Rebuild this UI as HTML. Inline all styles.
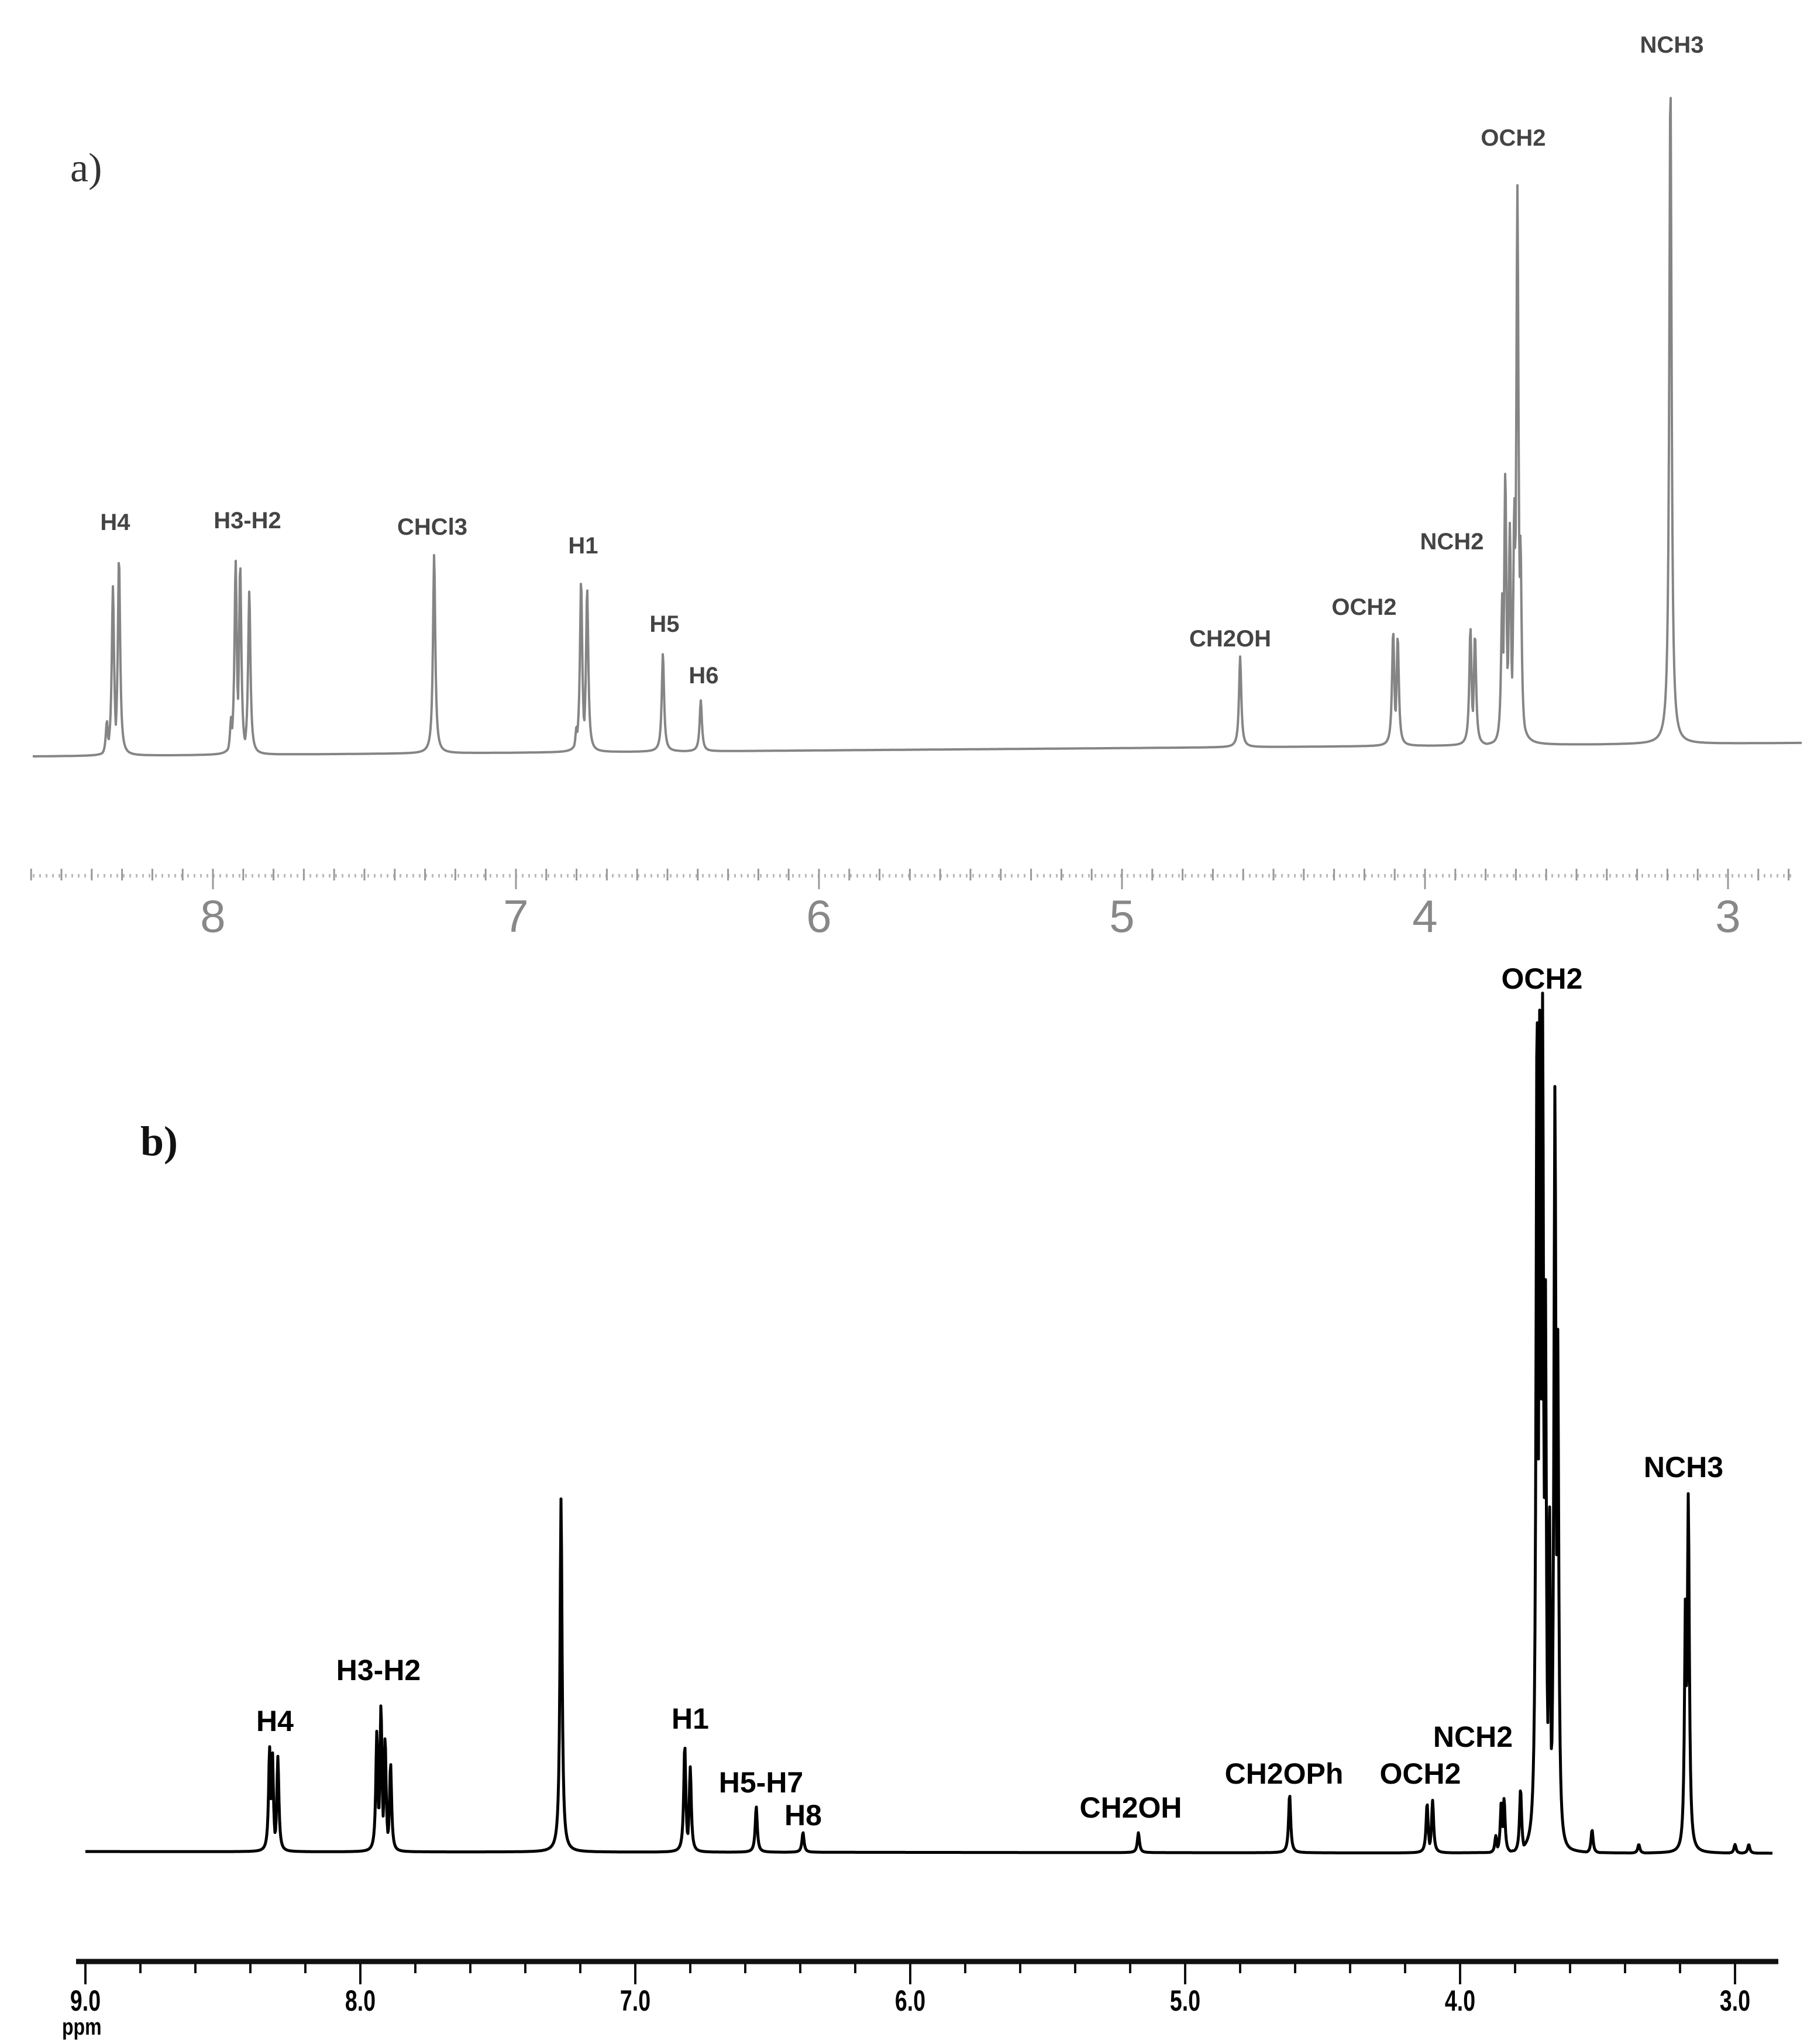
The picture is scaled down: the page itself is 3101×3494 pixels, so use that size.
<!DOCTYPE html>
<html><head><meta charset="utf-8"><style>
html,body{margin:0;padding:0;background:#fff;}
svg{display:block;}
.tl{font-family:"Liberation Sans",sans-serif;font-weight:bold;font-size:40px;fill:#444;text-anchor:middle;}
.bl{font-family:"Liberation Sans",sans-serif;font-weight:bold;font-size:50px;fill:#000;text-anchor:middle;}
</style></head><body>
<svg id="chart" width="3101" height="3494" viewBox="0 0 3101 3494" xmlns="http://www.w3.org/2000/svg">
<rect width="3101" height="3494" fill="#fff"/>
<g id="top"></g>
<g id="bot"></g>
<text x="120" y="310" font-family="Liberation Serif,serif" font-size="70" fill="#333">a)</text>
<text x="240" y="1975" font-family="Liberation Serif,serif" font-weight="bold" font-size="72" fill="#111">b)</text>
<g>
<text class="tl" x="197" y="906">H4</text>
<text class="tl" x="423" y="903">H3-H2</text>
<text class="tl" x="739" y="914">CHCl3</text>
<text class="tl" x="997" y="946">H1</text>
<text class="tl" x="1136" y="1080">H5</text>
<text class="tl" x="1203" y="1168">H6</text>
<text class="tl" x="2103" y="1105">CH2OH</text>
<text class="tl" x="2332" y="1051">OCH2</text>
<text class="tl" x="2482" y="939">NCH2</text>
<text class="tl" x="2587" y="249">OCH2</text>
<text class="tl" x="2858" y="90">NCH3</text>
</g>
<g>
<text class="bl" x="470" y="2959">H4</text>
<text class="bl" x="647" y="2872">H3-H2</text>
<text class="bl" x="1180" y="2955">H1</text>
<text class="bl" x="1301" y="3064">H5-H7</text>
<text class="bl" x="1373" y="3120">H8</text>
<text class="bl" x="1933" y="3107">CH2OH</text>
<text class="bl" x="2195" y="3049">CH2OPh</text>
<text class="bl" x="2428" y="3049">OCH2</text>
<text class="bl" x="2518" y="2986">NCH2</text>
<text class="bl" x="2636" y="1690">OCH2</text>
<text class="bl" x="2878" y="2525">NCH3</text>
</g>
</svg>
<script>
// Panel a data
const topPpm = [8.35, 8.33, 8.31, 7.94, 7.925, 7.91, 7.88, 7.27, 6.80, 6.785, 6.765, 6.515, 6.39, 4.61, 4.105, 4.09, 3.85, 3.835, 3.745, 3.735, 3.72, 3.705, 3.695, 3.685, 3.19];
const topHeights = [60, 290, 340, 65, 333, 327, 280, 340, 45, 295, 280, 168, 87, 155, 197, 188, 202, 190, 260, 470, 380, 425, 957, 360, 1140];
const topTicks = [8, 7, 6, 5, 4, 3];
// Panel b data
const botPpm = [8.33, 8.32, 8.30, 7.94, 7.925, 7.91, 7.89, 7.27, 6.82, 6.80, 6.56, 6.39, 5.17, 4.62, 4.12, 4.10, 3.87, 3.85, 3.84, 3.78, 3.72, 3.71, 3.70, 3.69, 3.675, 3.655, 3.645, 3.52, 3.35, 3.18, 3.17, 3.0, 2.95];
const botHeights = [180, 175, 163, 208, 253, 197, 152, 605, 184, 146, 78, 34, 34, 100, 85, 90, 30, 90, 94, 110, 1470, 1470, 1470, 1000, 600, 1317, 900, 40, 15, 450, 616, 15, 15];
const botTicks = ["9.0", "8.0", "7.0", "6.0", "5.0", "4.0", "3.0"];

const NS = "http://www.w3.org/2000/svg";
function mk(tag, attrs, parent){const e=document.createElementNS(NS,tag);for(const k in attrs)e.setAttribute(k,attrs[k]);parent.appendChild(e);return e;}
const xTop = p => 364 + (8 - p) * 518;
const xBot = p => 146 + (9 - p) * 470;

function spectrum(ppms, hs, isTop, x0, x1, base0, base1, w){
  let pts=[];
  for(let x=x0;x<=x1;x+=1){
    const ppm = isTop ? 8 - (x-364)/518 : 9 - (x-146)/470;
    let y = base0 + (base1-base0)*(x-x0)/(x1-x0);
    let mx=0;
    for(let i=0;i<ppms.length;i++){const d=(ppm-ppms[i])/w;const v=hs[i]/(1+d*d);mx=Math.max(mx,v);}
    y -= mx;
    pts.push(x+","+y.toFixed(1));
  }
  return pts.join(" ");
}
const gt=document.getElementById('top');
const lineA=mk('polyline',{points:spectrum(topPpm,topHeights,true,56,3080,1293,1270,0.0045),fill:'none',stroke:'#858585','stroke-width':4,'stroke-linejoin':'round'},gt);


const axA=mk('line',{x1:56,y1:1497,x2:3070,y2:1497,stroke:'#bbb','stroke-width':6,'stroke-dasharray':'3 8'},gt);


for(let k=0;k<=58;k++){
  const p=8.6-k*0.1; const x=xTop(p); const major=Math.abs(p-Math.round(p))<0.01;
  const t=mk('line',{x1:x,y1:1485,x2:x,y2:major?1520:1505,stroke:'#999','stroke-width':3},gt);
  
  
}
topTicks.forEach(v=>{
  const t=mk('text',{x:xTop(v),y:1593,'text-anchor':'middle','font-family':'Liberation Sans,sans-serif','font-size':78,fill:'#888'},gt);
  t.textContent=String(v);
  
  
});

const gb=document.getElementById('bot');
const lineB=mk('polyline',{points:spectrum(botPpm,botHeights,false,146,3030,3165,3168,0.0045),fill:'none',stroke:'#000','stroke-width':5,'stroke-linejoin':'round'},gb);


const axB=mk('line',{x1:130,y1:3353,x2:3040,y2:3353,stroke:'#111','stroke-width':9},gb);


for(let k=0;k<=30;k++){
  const p=9-k*0.2; const x=xBot(p); const major=Math.abs(p-Math.round(p))<0.01;
  const t=mk('line',{x1:x,y1:3353,x2:x,y2:major?3392:3373,stroke:'#111','stroke-width':4},gb);
  
  
}
botTicks.forEach(v=>{
  const x=xBot(parseFloat(v));
  const t=mk('text',{x:0,y:0,'text-anchor':'middle','font-family':'Liberation Sans,sans-serif','font-weight':'bold','font-size':50,fill:'#000',transform:`translate(${x},3437) scale(0.75,1)`},gb);
  t.textContent=v;
  
  
});
const ppm=mk('text',{x:0,y:0,'font-family':'Liberation Sans,sans-serif','font-weight':'bold','font-size':40,fill:'#000',transform:'translate(106,3478) scale(0.8,1)'},gb);
ppm.textContent='ppm';


</script>
</body></html>
